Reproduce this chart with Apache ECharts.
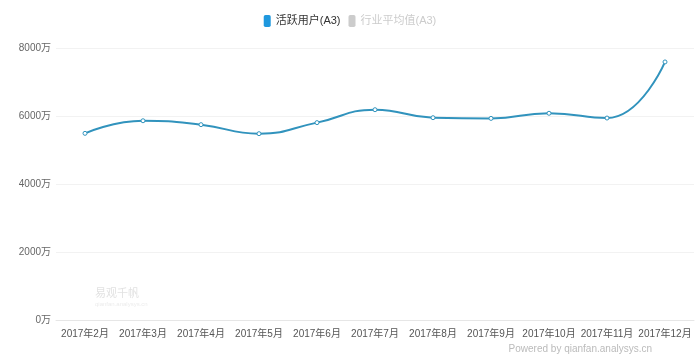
<!DOCTYPE html>
<html><head><meta charset="utf-8">
<script src="https://cdn.jsdelivr.net/npm/echarts@6/dist/echarts.min.js"></script>
<style>html,body{margin:0;padding:0;background:#fff}#c{width:700px;height:363px}</style>
</head><body><div id="c"></div>
<script>
var categories = ['2017年2月','2017年3月','2017年4月','2017年5月','2017年6月','2017年7月','2017年8月','2017年9月','2017年10月','2017年11月','2017年12月'];
var activeUsers = [5490, 5860, 5745, 5480, 5805, 6185, 5950, 5930, 6080, 5940, 7590];
var industryAvg = [];
var seriesNames = ['活跃用户(A3)', '行业平均值(A3)'];

var FONT = '"Liberation Sans", "Noto Sans CJK SC", sans-serif';
var chart = echarts.init(document.getElementById('c'));
chart.setOption({
  animation: false,
  textStyle: {fontFamily: FONT},
  legend: {
    top: 10, left: 'center', itemWidth: 7, itemHeight: 12, itemGap: 8,
    icon: 'roundRect',
    textStyle: {fontSize: 11, color: '#333', fontFamily: FONT},
    inactiveColor: '#ccc',
    data: [{name: seriesNames[0], itemStyle: {color: '#1f98de', borderWidth: 0}}, {name: seriesNames[1]}],
    selected: {'行业平均值(A3)': false}
  },
  grid: {left: 56, right: 6, top: 48, bottom: 43, containLabel: false},
  xAxis: {
    type: 'category', data: categories, boundaryGap: true,
    axisLine: {lineStyle: {color: '#e6e6e6'}},
    axisTick: {show: false},
    axisLabel: {color: '#555', fontSize: 10, margin: 9, interval: 0, fontFamily: FONT}
  },
  yAxis: {
    type: 'value', min: 0, max: 8000, interval: 2000,
    axisLine: {show: false}, axisTick: {show: false},
    axisLabel: {color: '#666', fontSize: 10, formatter: function (v) { return v + '万'; }, margin: 5, fontFamily: FONT},
    splitLine: {lineStyle: {color: '#f2f2f2'}}
  },
  graphic: [
    {type: 'text', left: 95, top: 287, style: {text: '易观千帆', fill: '#e2e2e2', fontSize: 11, fontFamily: '"Noto Sans CJK SC"'}},
    {type: 'text', left: 95, top: 301, style: {text: 'qianfan.analysys.cn', fill: '#ececec', fontSize: 6}},
    {type: 'text', right: 48, top: 344, style: {text: 'Powered by qianfan.analysys.cn', fill: '#bbb', fontSize: 10, fontFamily: FONT}}
  ],
  series: [
    {name: seriesNames[0], type: 'line', data: activeUsers, smooth: true,
     symbol: 'circle', symbolSize: 4,
     lineStyle: {color: '#3193bd', width: 2},
     itemStyle: {color: '#fff', borderColor: '#3193bd', borderWidth: 1}},
    {name: seriesNames[1], type: 'line', data: industryAvg, color: '#aaa'}
  ]
});
</script></body></html>
